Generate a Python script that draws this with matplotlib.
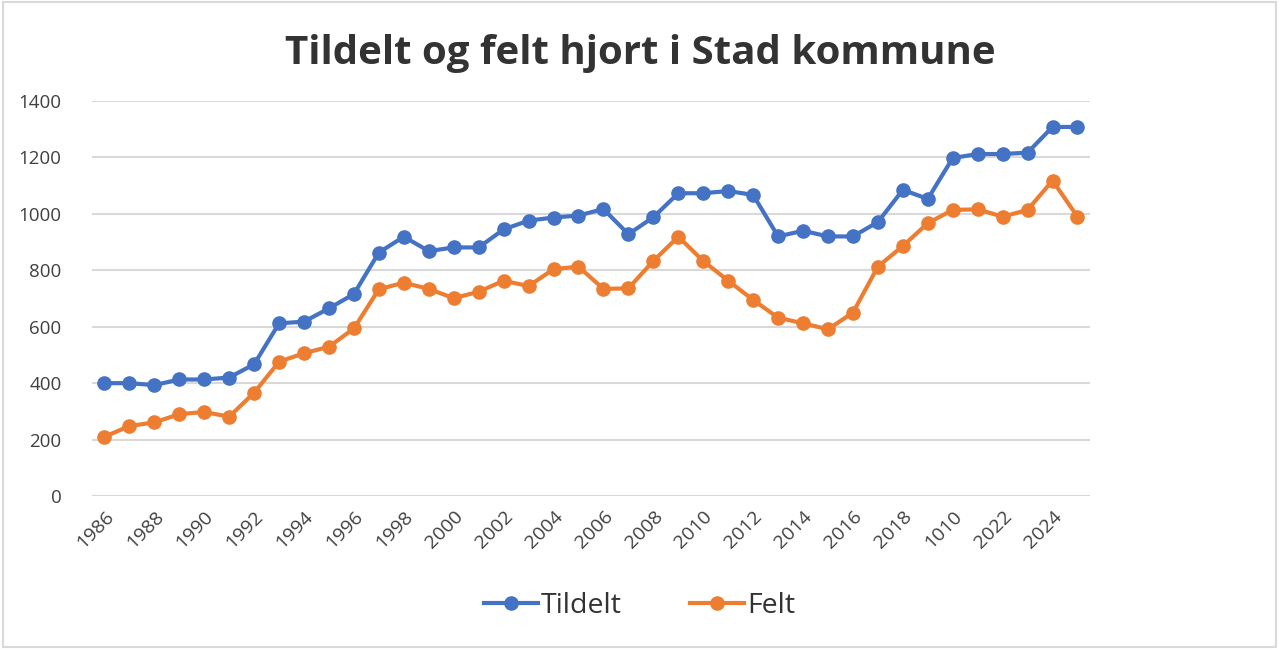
import matplotlib.pyplot as plt
from matplotlib.patches import Rectangle

# aar (kategoriakse, 2020 staar som "1010" i originalen)
years = ['1986', '1987', '1988', '1989', '1990', '1991', '1992', '1993', '1994', '1995',
         '1996', '1997', '1998', '1999', '2000', '2001', '2002', '2003', '2004', '2005',
         '2006', '2007', '2008', '2009', '2010', '2011', '2012', '2013', '2014', '2015',
         '2016', '2017', '2018', '2019', '1010', '2021', '2022', '2023', '2024', '2025']

tildelt = [400, 400, 393, 413, 413, 420, 467, 612, 618, 665,
           716, 863, 919, 868, 881, 881, 945, 976, 987, 994,
           1017, 928, 988, 1073, 1073, 1081, 1067, 920, 940, 920,
           920, 971, 1085, 1053, 1198, 1212, 1212, 1217, 1308, 1308]

felt = [210, 248, 261, 290, 298, 281, 366, 476, 506, 529,
        594, 733, 756, 734, 701, 724, 763, 744, 804, 813,
        734, 736, 833, 919, 833, 763, 695, 632, 612, 591,
        650, 813, 886, 967, 1014, 1016, 990, 1014, 1118, 990]

blue = '#4472C4'
orange = '#ED7D31'

plt.rcParams['font.family'] = ['Open Sans', 'DejaVu Sans']

fig = plt.figure(figsize=(12.79, 6.49), dpi=100)
ax = fig.add_axes([0.0719, 0.2357, 0.7803, 0.6087])

x = list(range(len(years)))
ax.plot(x, tildelt, color=blue, lw=3, marker='o', ms=9.5, label='Tildelt', zorder=3)
ax.plot(x, felt, color=orange, lw=3, marker='o', ms=9.5, label='Felt', zorder=3)

ax.set_xlim(-0.5, len(years) - 0.5)
ax.set_ylim(0, 1400)
ax.set_yticks(range(0, 1401, 200))
ax.yaxis.grid(True, color='#D9D9D9', lw=1.5)
ax.set_axisbelow(True)
for s in ax.spines.values():
    s.set_visible(False)

ax.set_xticks(x[::2])
ax.set_xticklabels(years[::2], rotation=45, ha='right', rotation_mode='anchor')
ax.tick_params(axis='x', length=0, pad=8, labelsize=14, colors='#404040')
ax.tick_params(axis='y', length=0, pad=22, labelsize=13.5, colors='#404040')

fig.text(0.501, 0.918, 'Tildelt og felt hjort i Stad kommune', ha='center', va='center',
         fontsize=29, fontweight='bold', color='#333333')

ax.legend(loc='center', bbox_to_anchor=(0.5, 0.066), bbox_transform=fig.transFigure,
          ncol=2, frameon=False, fontsize=20.5, labelcolor='#333333',
          handlelength=1.9, columnspacing=2.4, handletextpad=0.1)

fig.patches.append(Rectangle((0.002, 0.003), 0.996, 0.994, transform=fig.transFigure,
                             fill=False, edgecolor='#D9D9D9', lw=1.5))

fig.savefig('out.png', dpi=100, facecolor='white')
